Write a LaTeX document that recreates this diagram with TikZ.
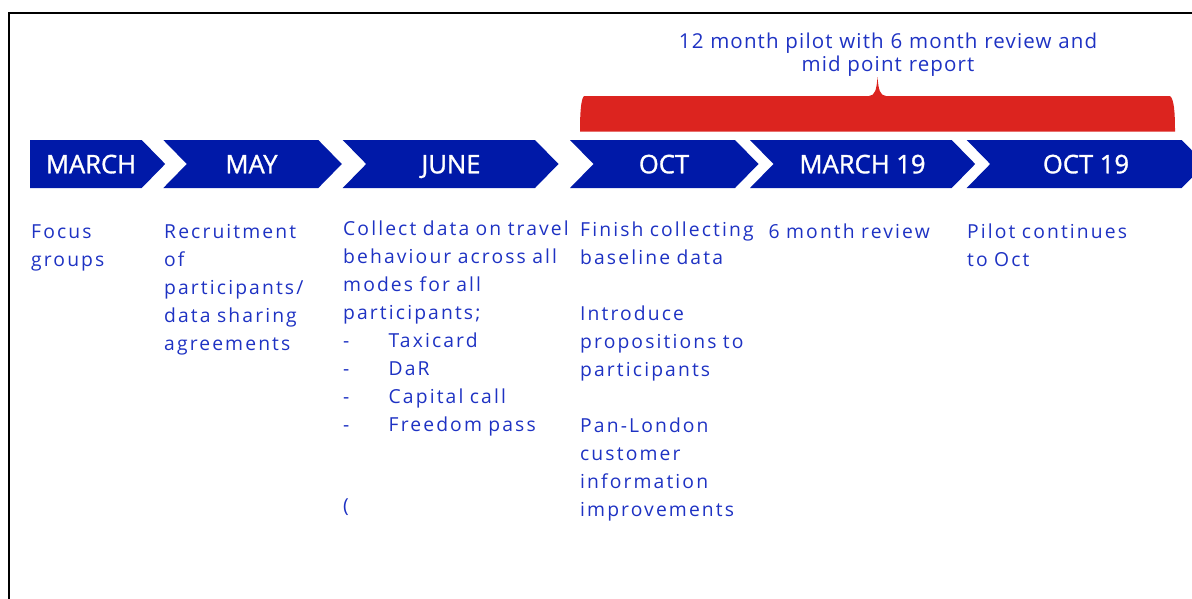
\documentclass[tikz,border=0pt]{standalone}
\usepackage{fontspec}
\setmainfont{Open Sans}
\newfontfamily\bodyfont[LetterSpace=11]{Open Sans}
\newfontfamily\titfont[LetterSpace=5.5]{Open Sans}
\newfontfamily\labfont[FakeBold=1.2]{Open Sans}
\definecolor{tflblue}{RGB}{0,25,168}
\definecolor{tflred}{RGB}{220,36,31}
\definecolor{txtblue}{RGB}{30,50,195}
\begin{document}
\begin{tikzpicture}[x=1pt,y=-1pt,
  chev/.style={fill=tflblue, draw=none},
  lab/.style={text=white, font=\labfont\fontsize{25.6}{30}\selectfont, inner sep=0, anchor=base},
  body/.style={text=txtblue, font=\bodyfont\fontsize{19.3}{28}\selectfont, inner sep=0, anchor=base west, align=left, text width=300pt},
  titlestyle/.style={text=txtblue, font=\titfont\fontsize{20.5}{23.5}\selectfont, inner sep=0, anchor=base, align=center, text width=480pt}
]
\useasboundingbox (0,0) rectangle (1192,598);
\clip (0,0) rectangle (1192,598);
% frame
\draw[line width=2pt] (9,600) -- (9,13.3) -- (1195,13.3);
% red bracket
\fill[tflred] (580,131.5) -- (1175,131.5)
  .. controls (1175,112) and (1174,99) .. (1170,96) -- (886,96)
  .. controls (880,95.5) and (878.5,90) .. (877.5,77)
  .. controls (876.5,90) and (875,95.5) .. (869,96) -- (584,96)
  .. controls (581,99) and (580,112) .. (580,131.5) -- cycle;
\node[titlestyle] (title) at (888,48.3) {12 month pilot with 6 month review and\\mid point report};
% chevrons
\fill[chev] (30,140) -- (141.7,140) -- (165.2,164) -- (141.7,188) -- (30,188) -- cycle;
\fill[chev] (163.3,140) -- (318.3,140) -- (341.8,164) -- (318.3,188) -- (163.3,188) -- (186.8,164) -- cycle;
\fill[chev] (342.7,140) -- (535,140) -- (558.5,164) -- (535,188) -- (342.7,188) -- (366.2,164) -- cycle;
\fill[chev] (570,140) -- (735,140) -- (758.5,164) -- (735,188) -- (570,188) -- (593.5,164) -- cycle;
\fill[chev] (750,140) -- (951.7,140) -- (975.2,164) -- (951.7,188) -- (750,188) -- (773.5,164) -- cycle;
\fill[chev] (966.7,140) -- (1181.7,140) -- (1205.2,164) -- (1181.7,188) -- (966.7,188) -- (990.2,164) -- cycle;
\node[lab] (l1) at (91,173.3) {MARCH};
\node[lab] (l2) at (251.5,173.3) {MAY};
\node[lab] (l3) at (451,173.3) {JUNE};
\node[lab] (l4) at (664,173.3) {OCT};
\node[lab] (l5) at (862.5,173.3) {MARCH 19};
\node[lab] (l6) at (1086,173.3) {OCT 19};
% texts
\node[body] (t1) at (31,238.3) {Focus\\groups};
\node[body] (t2) at (164,238.3) {Recruitment\\of\\participants/\\data sharing\\agreements};
\node[body] (t3) at (343,235.5) {Collect data on travel\\behaviour across all\\modes for all\\participants;\\
  \makebox[45.5pt][l]{-}Taxicard\\\makebox[45.5pt][l]{-}DaR\\\makebox[45.5pt][l]{-}Capital call\\\makebox[45.5pt][l]{-}Freedom pass};
\node[body] (t3b) at (343,512.5) {(};
\node[body] (t4) at (580,236.5) {Finish collecting\\baseline data\\[28pt]Introduce\\propositions to\\participants\\[28pt]Pan-London\\customer\\information\\improvements};
\node[body] (t5) at (768.5,238.3) {6 month review};
\node[body] (t6) at (967,238.3) {Pilot continues\\to Oct};
\end{tikzpicture}
\end{document}
